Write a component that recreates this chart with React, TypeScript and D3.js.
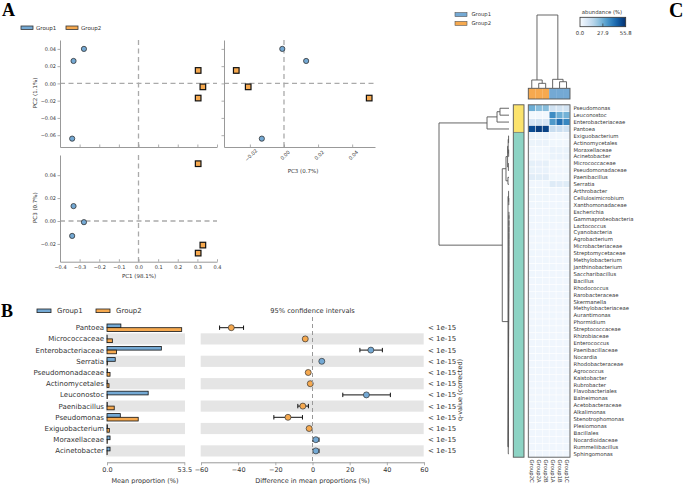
import React, { useEffect, useRef } from 'react';
import * as d3 from 'd3';

const BLUE = '#74a9d4';
const ORANGE = '#f6a94f';
const FONT = 'DejaVu Sans, sans-serif';
const SERIF = 'Liberation Serif, serif';

// ---- Panel A: PCA coordinates ----
const group1PC1 = [-0.331, -0.278, -0.338];
const group1PC2 = [0.026, 0.040, -0.064];
const group1PC3 = [0.013, -0.001, -0.013];
const group2PC1 = [0.304, 0.328, 0.304];
const group2PC2 = [0.015, -0.004, -0.017];
const group2PC3 = [-0.028, -0.021, 0.050];
const pc1Ticks = [-0.4, -0.3, -0.2, -0.1, 0.0, 0.1, 0.2, 0.3, 0.4];
const pc2Ticks = [0.04, 0.02, 0.0, -0.02, -0.04, -0.06];
const pc3Ticks = [0.04, 0.02, 0.0, -0.02];
const pc3xTicks = [-0.02, 0.0, 0.02, 0.04];

// ---- Panel B: STAMP-like comparison ----
const taxaB = ['Pantoea', 'Micrococcaceae', 'Enterobacteriaceae', 'Serratia', 'Pseudomonadaceae', 'Actinomycetales',
  'Leuconostoc', 'Paenibacillus', 'Pseudomonas', 'Exiguobacterium', 'Moraxellaceae', 'Acinetobacter'];
const meanGroup1 = [9.6, 0.1, 37.6, 5.7, 0.3, 0.2, 28.5, 0.2, 9.2, 0.3, 2.1, 2.1];
const meanGroup2 = [51.7, 3.7, 6.6, 0.3, 2.1, 1.4, 0.2, 5.0, 21.6, 1.6, 0.2, 0.1];
const diffMean = [-43.7, -3.9, 31.4, 5.0, -2.3, -1.2, 29.0, -5.2, -13.2, -1.8, 1.8, 1.8];
const ciLow = [-50.0, -4.6, 25.5, 4.2, -2.8, -1.6, 16.3, -7.9, -20.8, -2.3, 0.2, 0.2];
const ciHigh = [-37.1, -3.2, 37.6, 5.8, -1.8, -0.8, 41.9, -2.2, -5.4, -1.3, 3.5, 3.5];
const qValues = ['< 1e-15', '< 1e-15', '< 1e-15', '< 1e-15', '< 1e-15', '< 1e-15',
  '< 1e-15', '< 1e-15', '< 1e-15', '< 1e-15', '< 1e-15', '< 1e-15'];
const meanTicks = [0, 53.5];
const diffTicks = [-60, -40, -20, 0, 20, 40, 60];

// ---- Panel C: heatmap ----
const sampleLabels = ['Group2C', 'Group2A', 'Group2B', 'Group1A', 'Group1B', 'Group1C'];
const sampleGroups = ['Group2', 'Group2', 'Group2', 'Group1', 'Group1', 'Group1'];
const heatTaxa = ['Pseudomonas', 'Leuconostoc', 'Enterobacteriaceae', 'Pantoea', 'Exiguobacterium', 'Actinomycetales',
  'Moraxellaceae', 'Acinetobacter', 'Micrococcaceae', 'Pseudomonadaceae', 'Paenibacillus', 'Serratia',
  'Arthrobacter', 'Cellulosimicrobium', 'Xanthomonadaceae', 'Escherichia', 'Gammaproteobacteria', 'Lactococcus',
  'Cyanobacteria', 'Agrobacterium', 'Microbacteriaceae', 'Streptomycetaceae', 'Methylobacterium', 'Janthinobacterium',
  'Saccharibacillus', 'Bacillus', 'Rhodococcus', 'Rarobacteraceae', 'Skermanella', 'Methylobacteriaceae',
  'Aurantimonas', 'Phormidium', 'Streptococcaceae', 'Rhizobiaceae', 'Enterococcus', 'Paenibacillaceae',
  'Nocardia', 'Rhodobacteraceae', 'Agrococcus', 'Kaistobacter', 'Rubrobacter', 'Flavobacteriales',
  'Balneimonas', 'Acetobacteraceae', 'Alkalimonas', 'Stenotrophomonas', 'Plesiomonas', 'Bacillales',
  'Nocardioidaceae', 'Rummeliibacillus', 'Sphingomonas'];
const heatValues = [
  [28, 24, 24, 11, 10, 10],
  [1.5, 1.6, 1.5, 36, 28, 27],
  [9, 10, 9, 33, 42, 37],
  [50, 53, 52, 13, 12, 11],
  [3.4, 3.2, 3.3, 2.0, 1.9, 2.0],
  [3.2, 3.4, 3.3, 1.9, 1.9, 1.8],
  [2.0, 1.9, 2.0, 3.8, 3.5, 3.7],
  [1.8, 1.8, 1.9, 3.6, 3.8, 3.7],
  [5.0, 4.6, 4.8, 1.8, 1.9, 1.8],
  [4.1, 3.8, 3.9, 2.0, 2.0, 1.9],
  [6.2, 5.8, 6.0, 1.9, 1.9, 1.9],
  [2.0, 2.0, 2.1, 6.9, 6.5, 6.7],
  [2.3, 2.2, 2.3, 2.0, 2.1, 2.0],
  [2.2, 2.1, 2.2, 2.0, 2.0, 2.1],
  [2.1, 2.2, 2.1, 2.0, 2.1, 2.0],
  [2.0, 2.1, 2.0, 2.2, 2.1, 2.1],
  [2.1, 2.0, 2.1, 2.1, 2.2, 2.0],
  [2.0, 2.0, 2.1, 2.0, 2.0, 2.1],
  [2.1, 2.1, 2.0, 2.0, 2.1, 2.0],
  [2.0, 2.0, 2.0, 2.1, 2.0, 2.0],
  [2.0, 2.1, 2.0, 2.0, 2.0, 2.1],
  [2.1, 2.0, 2.0, 2.0, 2.1, 2.0],
  [2.0, 2.0, 2.1, 2.0, 2.0, 2.0],
  [2.0, 2.0, 2.0, 2.1, 2.0, 2.0],
  [2.1, 2.0, 2.0, 2.0, 2.0, 2.0],
  [2.0, 2.1, 2.0, 2.0, 2.0, 2.0],
  [2.0, 2.0, 2.0, 2.0, 2.1, 2.0],
  [2.0, 2.0, 2.0, 2.0, 2.0, 2.1],
  [2.0, 2.0, 2.1, 2.0, 2.0, 2.0],
  [2.0, 2.0, 2.0, 2.0, 2.0, 2.0],
  [2.0, 2.0, 2.0, 2.1, 2.0, 2.0],
  [2.0, 2.0, 2.0, 2.0, 2.0, 2.0],
  [2.0, 2.1, 2.0, 2.0, 2.0, 2.0],
  [2.0, 2.0, 2.0, 2.0, 2.0, 2.0],
  [2.0, 2.0, 2.0, 2.0, 2.0, 2.0],
  [2.0, 2.0, 2.0, 2.0, 2.0, 2.0],
  [2.0, 2.0, 2.0, 2.0, 2.0, 2.0],
  [2.0, 2.0, 2.0, 2.0, 2.0, 2.0],
  [2.0, 2.0, 2.0, 2.0, 2.0, 2.0],
  [2.0, 2.0, 2.0, 2.0, 2.0, 2.0],
  [2.0, 2.0, 2.0, 2.0, 2.0, 2.0],
  [2.0, 2.0, 2.0, 2.0, 2.0, 2.0],
  [2.0, 2.0, 2.0, 2.0, 2.0, 2.0],
  [2.0, 2.0, 2.0, 2.0, 2.0, 2.0],
  [2.0, 2.0, 2.0, 2.0, 2.0, 2.0],
  [2.0, 2.0, 2.0, 2.0, 2.0, 2.0],
  [2.0, 2.0, 2.0, 2.0, 2.0, 2.0],
  [2.0, 2.0, 2.0, 2.0, 2.0, 2.0],
  [2.0, 2.0, 2.0, 2.0, 2.0, 2.0],
  [2.0, 2.0, 2.0, 2.0, 2.0, 2.0],
  [2.0, 2.0, 2.0, 2.0, 2.0, 2.0],
];
const clusterSizes = [4, 47];
const clusterColors = ['#fbe36d', '#8dd3c4'];
const colorbarTicks = [0, 27.9, 55.8];
// linkage: [childA, childB, height]; leaves 0..50, new nodes from 51
const rowLinkage: [number, number, number][] = [
  [0, 1, 0.129], [51, 2, 0.171], [52, 3, 0.314],
  [4, 5, 0.006], [6, 7, 0.005], [54, 55, 0.012], [8, 9, 0.009], [56, 57, 0.02], [10, 11, 0.015], [58, 59, 0.043],
  [13, 14, 0.003], [12, 61, 0.006],
  [15, 16, 0.0010], [63, 17, 0.0012], [64, 18, 0.0014], [65, 19, 0.0016], [66, 20, 0.0018], [67, 21, 0.0020],
  [68, 22, 0.0023], [69, 23, 0.0026], [70, 24, 0.0029], [71, 25, 0.0032], [72, 26, 0.0035], [73, 27, 0.0038],
  [74, 28, 0.0041], [75, 29, 0.0044], [76, 30, 0.0047], [77, 31, 0.0050], [78, 32, 0.0053], [79, 33, 0.0056],
  [80, 34, 0.0059], [81, 35, 0.0062], [82, 36, 0.0065], [83, 37, 0.0068], [84, 38, 0.0071], [85, 39, 0.0074],
  [86, 40, 0.0077], [87, 41, 0.0080], [88, 42, 0.0083], [89, 43, 0.0086], [90, 44, 0.0089], [91, 45, 0.0092],
  [92, 46, 0.0095], [93, 47, 0.0098], [94, 48, 0.0101], [95, 49, 0.0104], [96, 50, 0.0107],
  [62, 97, 0.014], [60, 98, 0.096], [53, 99, 1.0],
];
const colLinkage: [number, number, number][] = [
  [1, 2, 0.064], [0, 6, 0.11], [4, 5, 0.086], [3, 8, 0.119], [7, 9, 1.0],
];

type Seg = { a: number; ha: number; b: number; hb: number; h: number };
const dendroSegs = (linkage: [number, number, number][], leafPos: number[]): Seg[] => {
  const pos = [...leafPos];
  const hts = leafPos.map(() => 0);
  const segs: Seg[] = [];
  linkage.forEach(([a, b, h]) => {
    segs.push({ a: pos[a], ha: hts[a], b: pos[b], hb: hts[b], h });
    pos.push((pos[a] + pos[b]) / 2);
    hts.push(h);
  });
  return segs;
};

const App: React.FC = () => {
  const ref = useRef<SVGSVGElement | null>(null);

  useEffect(() => {
    if (ref.current) draw();
  }, []);

  const styleAxis = (g: any, size = 5) => {
    g.attr('font-family', FONT).attr('font-size', size);
    g.select('.domain').attr('stroke', '#999').attr('stroke-width', 1);
    g.selectAll('.tick line').attr('stroke', '#999').attr('stroke-width', 0.8);
    g.selectAll('.tick text').attr('fill', '#333');
  };

  const draw = () => {
    const svg = d3.select(ref.current);
    svg.selectAll('*').remove();
    svg.append('rect').attr('width', 685).attr('height', 484).attr('fill', '#fff');

    // ================= Panel A =================
    svg.append('text').attr('x', 2).attr('y', 15.5).attr('font-family', SERIF)
      .attr('font-weight', 'bold').attr('font-size', 18).text('A');

    const legA = svg.append('g').attr('font-family', FONT).attr('font-size', 5.5).attr('fill', '#333');
    [['Group1', BLUE, 21], ['Group2', ORANGE, 66]].forEach(([t, c, x]) => {
      legA.append('rect').attr('x', x as number).attr('y', 26).attr('width', 12).attr('height', 3.4)
        .attr('fill', c as string).attr('stroke', '#333').attr('stroke-width', 0.8);
      legA.append('text').attr('x', (x as number) + 15).attr('y', 29.8).text(t as string);
    });

    const fmt2 = d3.format('.2f');
    const xPC1 = d3.scaleLinear().domain([-0.4, 0.4]).range([60, 217]);
    const yPC2 = d3.scaleLinear().domain([-0.0737, 0.0503]).range([147, 40]);
    const yPC3 = d3.scaleLinear().domain([-0.0355, 0.0576]).range([261.7, 155]);
    const xPC3 = d3.scaleLinear().domain([-0.0352, 0.0534]).range([224, 375]);

    const dashed = (x1: number, y1: number, x2: number, y2: number) => {
      svg.append('line').attr('x1', x1).attr('y1', y1).attr('x2', x2).attr('y2', y2)
        .attr('stroke', '#aaa').attr('stroke-width', 1.3).attr('stroke-dasharray', '5,3.5');
    };

    const scatter = (xs1: number[], ys1: number[], xs2: number[], ys2: number[], xs: any, ys: any) => {
      const g = svg.append('g');
      xs1.forEach((v, i) => {
        g.append('circle').attr('cx', xs(v)).attr('cy', ys(ys1[i])).attr('r', 2.6)
          .attr('fill', BLUE).attr('stroke', '#333').attr('stroke-width', 0.8);
      });
      xs2.forEach((v, i) => {
        g.append('rect').attr('x', xs(v) - 2.8).attr('y', ys(ys2[i]) - 2.8).attr('width', 5.6).attr('height', 5.6)
          .attr('fill', ORANGE).attr('stroke', '#111').attr('stroke-width', 1.2);
      });
    };

    // top-left: PC1 vs PC2
    dashed(xPC1(0), 40, xPC1(0), 147);
    dashed(60, yPC2(0), 217, yPC2(0));
    const a1 = svg.append('g').attr('transform', 'translate(60,0)')
      .call(d3.axisLeft(yPC2).tickValues(pc2Ticks).tickFormat((d: any) => fmt2(d)).tickSize(2.5).tickSizeOuter(0).tickPadding(1.5));
    styleAxis(a1);
    const a2 = svg.append('g').attr('transform', 'translate(0,147)')
      .call(d3.axisBottom(xPC1).tickValues(pc1Ticks).tickFormat(() => '').tickSizeInner(-2.5).tickSizeOuter(0));
    styleAxis(a2);
    scatter(group1PC1, group1PC2, group2PC1, group2PC2, xPC1, yPC2);
    svg.append('text').attr('transform', 'translate(36.5,93) rotate(-90)').attr('text-anchor', 'middle')
      .attr('font-family', FONT).attr('font-size', 5.5).attr('fill', '#333').text('PC2 (1.1%)');

    // top-right: PC3 vs PC2
    dashed(xPC3(0), 40, xPC3(0), 147);
    dashed(224, yPC2(0), 375, yPC2(0));
    const a3 = svg.append('g').attr('transform', 'translate(224,0)')
      .call(d3.axisLeft(yPC2).tickValues(pc2Ticks).tickFormat(() => '').tickSize(2.5).tickSizeOuter(0));
    styleAxis(a3);
    const a4 = svg.append('g').attr('transform', 'translate(0,147)')
      .call(d3.axisBottom(xPC3).tickValues(pc3xTicks).tickFormat(() => '').tickSizeInner(-2.5).tickSizeOuter(0));
    styleAxis(a4);
    pc3xTicks.forEach((v) => {
      svg.append('text').attr('transform', `translate(${xPC3(v) + 1},${155}) rotate(-45)`)
        .attr('text-anchor', 'middle').attr('dominant-baseline', 'central')
        .attr('font-family', FONT).attr('font-size', 5).attr('fill', '#333').text(fmt2(v));
    });
    scatter(group1PC3, group1PC2, group2PC3, group2PC2, xPC3, yPC2);
    svg.append('text').attr('x', 303).attr('y', 172.5).attr('text-anchor', 'middle')
      .attr('font-family', FONT).attr('font-size', 5.5).attr('fill', '#333').text('PC3 (0.7%)');

    // bottom: PC1 vs PC3
    dashed(xPC1(0), 155, xPC1(0), 261.7);
    dashed(60, yPC3(0), 217, yPC3(0));
    const a5 = svg.append('g').attr('transform', 'translate(60,0)')
      .call(d3.axisLeft(yPC3).tickValues(pc3Ticks).tickFormat((d: any) => fmt2(d)).tickSize(2.5).tickSizeOuter(0).tickPadding(1.5));
    styleAxis(a5);
    const a6 = svg.append('g').attr('transform', 'translate(0,261.7)')
      .call(d3.axisBottom(xPC1).tickValues(pc1Ticks).tickFormat(d3.format('.1f') as any).tickSizeInner(-2.5).tickSizeOuter(0).tickPadding(3.5));
    styleAxis(a6);
    scatter(group1PC1, group1PC3, group2PC1, group2PC3, xPC1, yPC3);
    svg.append('text').attr('transform', 'translate(36.5,207.7) rotate(-90)').attr('text-anchor', 'middle')
      .attr('font-family', FONT).attr('font-size', 5.5).attr('fill', '#333').text('PC3 (0.7%)');
    svg.append('text').attr('x', 139).attr('y', 277.5).attr('text-anchor', 'middle')
      .attr('font-family', FONT).attr('font-size', 5.5).attr('fill', '#333').text('PC1 (98.1%)');

    // ================= Panel B =================
    svg.append('text').attr('x', 1).attr('y', 317).attr('font-family', SERIF)
      .attr('font-weight', 'bold').attr('font-size', 18).text('B');

    const legB = svg.append('g').attr('font-family', FONT).attr('font-size', 7).attr('fill', '#333');
    [['Group1', BLUE, 37], ['Group2', ORANGE, 96]].forEach(([t, c, x]) => {
      legB.append('rect').attr('x', x as number).attr('y', 309).attr('width', 14).attr('height', 3.6)
        .attr('fill', c as string).attr('stroke', '#222').attr('stroke-width', 0.8);
      legB.append('text').attr('x', (x as number) + 20).attr('y', 313.3).text(t as string);
    });

    const rowB = d3.scaleBand().domain(taxaB).range([322.1, 456.5]);
    const xMean = d3.scaleLinear().domain([0, 53.5]).range([107, 184.3]);
    const xDiff = d3.scaleLinear().domain([-60, 60]).range([201, 424]);
    const bw = rowB.bandwidth();

    taxaB.forEach((t, i) => {
      if (i % 2 === 1) {
        svg.append('rect').attr('x', 106).attr('y', rowB(t)!).attr('width', 79).attr('height', bw).attr('fill', '#e5e5e5');
        svg.append('rect').attr('x', 200.7).attr('y', rowB(t)!).attr('width', 223).attr('height', bw).attr('fill', '#e5e5e5');
      }
    });

    const gB = svg.append('g').attr('font-family', FONT);
    taxaB.forEach((t, i) => {
      const cy = rowB(t)! + bw / 2;
      gB.append('text').attr('x', 104).attr('y', cy).attr('dy', '0.35em').attr('text-anchor', 'end')
        .attr('font-size', 7).attr('fill', '#333').text(t);
      gB.append('rect').attr('x', xMean(0)).attr('y', cy - 3.7).attr('width', xMean(meanGroup1[i]) - xMean(0))
        .attr('height', 3.7).attr('fill', BLUE).attr('stroke', '#111').attr('stroke-width', 0.8);
      gB.append('rect').attr('x', xMean(0)).attr('y', cy).attr('width', xMean(meanGroup2[i]) - xMean(0))
        .attr('height', 3.7).attr('fill', ORANGE).attr('stroke', '#111').attr('stroke-width', 0.8);
      gB.append('text').attr('x', 428).attr('y', cy).attr('dy', '0.35em')
        .attr('font-size', 7).attr('fill', '#333').text(qValues[i]);
    });

    svg.append('line').attr('x1', xDiff(0)).attr('x2', xDiff(0)).attr('y1', 317).attr('y2', 462.3)
      .attr('stroke', '#999').attr('stroke-width', 1).attr('stroke-dasharray', '4,3');

    taxaB.forEach((t, i) => {
      const cy = rowB(t)! + bw / 2;
      const lo = xDiff(ciLow[i]);
      const hi = xDiff(ciHigh[i]);
      gB.append('line').attr('x1', lo).attr('x2', hi).attr('y1', cy).attr('y2', cy).attr('stroke', '#111').attr('stroke-width', 1);
      [lo, hi].forEach((x) => {
        gB.append('line').attr('x1', x).attr('x2', x).attr('y1', cy - 2.2).attr('y2', cy + 2.2).attr('stroke', '#111').attr('stroke-width', 1);
      });
      gB.append('circle').attr('cx', xDiff(diffMean[i])).attr('cy', cy).attr('r', 3)
        .attr('fill', diffMean[i] > 0 ? BLUE : ORANGE).attr('stroke', '#333').attr('stroke-width', 0.7);
    });

    const b1 = svg.append('g').attr('transform', 'translate(0,462.3)')
      .call(d3.axisBottom(xMean).tickValues(meanTicks).tickFormat(d3.format('.1f') as any).tickSize(3).tickSizeOuter(0).tickPadding(2));
    styleAxis(b1, 6.5);
    const b2 = svg.append('g').attr('transform', 'translate(0,462.3)')
      .call(d3.axisBottom(xDiff).tickValues(diffTicks).tickFormat(d3.format('d') as any).tickSize(3).tickSizeOuter(0).tickPadding(2));
    styleAxis(b2, 6.5);

    svg.append('text').attr('x', 312.5).attr('y', 313).attr('text-anchor', 'middle')
      .attr('font-family', FONT).attr('font-size', 6.7).attr('fill', '#333').text('95% confidence intervals');
    svg.append('text').attr('x', 145).attr('y', 482.5).attr('text-anchor', 'middle')
      .attr('font-family', FONT).attr('font-size', 6.5).attr('fill', '#333').text('Mean proportion (%)');
    svg.append('text').attr('x', 312.5).attr('y', 482.5).attr('text-anchor', 'middle')
      .attr('font-family', FONT).attr('font-size', 6.5).attr('fill', '#333').text('Difference in mean proportions (%)');
    svg.append('text').attr('transform', 'translate(462,390) rotate(-90)').attr('text-anchor', 'middle')
      .attr('font-family', FONT).attr('font-size', 6.5).attr('fill', '#333').text('q-value (corrected)');

    // ================= Panel C =================
    svg.append('text').attr('x', 669).attr('y', 17).attr('font-family', SERIF)
      .attr('font-weight', 'bold').attr('font-size', 20).text('C');

    const legC = svg.append('g').attr('font-family', FONT).attr('font-size', 5.3).attr('fill', '#333');
    [['Group1', BLUE, 12.6], ['Group2', ORANGE, 21.4]].forEach(([t, c, y]) => {
      legC.append('rect').attr('x', 455).attr('y', y as number).attr('width', 12).attr('height', 4)
        .attr('fill', c as string).attr('stroke', '#555').attr('stroke-width', 0.6);
      legC.append('text').attr('x', 471.5).attr('y', (y as number) + 3.8).text(t as string);
    });

    // colorbar
    const cbX = d3.scaleLinear().domain([0, 55.8]).range([580, 625.7]);
    const defs = svg.append('defs');
    const grad = defs.append('linearGradient').attr('id', 'blues').attr('x1', '0%').attr('x2', '100%');
    d3.range(0, 1.0001, 0.1).forEach((t) => {
      grad.append('stop').attr('offset', `${t * 100}%`).attr('stop-color', d3.interpolateBlues(t));
    });
    svg.append('rect').attr('x', cbX(0)).attr('y', 17.3).attr('width', cbX(55.8) - cbX(0)).attr('height', 9.4)
      .attr('fill', 'url(#blues)').attr('stroke', '#333').attr('stroke-width', 0.8);
    svg.append('line').attr('x1', cbX(27.9)).attr('x2', cbX(27.9)).attr('y1', 23.5).attr('y2', 26.7)
      .attr('stroke', '#333').attr('stroke-width', 0.7);
    colorbarTicks.forEach((v) => {
      svg.append('text').attr('x', cbX(v)).attr('y', 35).attr('text-anchor', 'middle')
        .attr('font-family', FONT).attr('font-size', 5.3).attr('fill', '#333').text(v.toFixed(1));
    });
    svg.append('text').attr('x', 602).attr('y', 13.5).attr('text-anchor', 'middle')
      .attr('font-family', FONT).attr('font-size', 5.3).attr('fill', '#333').text('abundance (%)');

    const colX = d3.scaleBand().domain(sampleLabels).range([528.3, 570]);
    const rowY = d3.scaleBand().domain(heatTaxa).range([104.8, 457.2]);
    const color = d3.scaleSequential(d3.interpolateBlues).domain([0, 55.8]);
    const cw = colX.bandwidth();
    const rh = rowY.bandwidth();

    const gH = svg.append('g');
    heatTaxa.forEach((t, r) => {
      sampleLabels.forEach((s, c) => {
        gH.append('rect').attr('x', colX(s)!).attr('y', rowY(t)!).attr('width', cw).attr('height', rh)
          .attr('fill', color(heatValues[r][c])).attr('stroke', '#fff').attr('stroke-width', 0.5);
      });
      gH.append('text').attr('x', 573.5).attr('y', rowY(t)! + rh / 2).attr('dy', '0.35em')
        .attr('font-family', FONT).attr('font-size', 5.3).attr('fill', '#333').text(t);
    });
    svg.append('rect').attr('x', 528.3).attr('y', 104.8).attr('width', 570 - 528.3).attr('height', 457.2 - 104.8)
      .attr('fill', 'none').attr('stroke', '#555').attr('stroke-width', 0.9);

    // column header
    sampleLabels.forEach((s, c) => {
      svg.append('rect').attr('x', colX(s)!).attr('y', 88.3).attr('width', cw).attr('height', 10.7)
        .attr('fill', sampleGroups[c] === 'Group1' ? BLUE : ORANGE);
      svg.append('text').attr('transform', `translate(${colX(s)! + cw / 2},459.5) rotate(90)`)
        .attr('dominant-baseline', 'central')
        .attr('font-family', FONT).attr('font-size', 5.3).attr('fill', '#333').text(s);
    });
    svg.append('rect').attr('x', 528.3).attr('y', 88.3).attr('width', 570 - 528.3).attr('height', 10.7)
      .attr('fill', 'none').attr('stroke', '#555').attr('stroke-width', 0.9);

    // row cluster bar
    let start = 0;
    clusterSizes.forEach((n, k) => {
      const y0 = rowY(heatTaxa[start])!;
      svg.append('rect').attr('x', 513.3).attr('y', y0).attr('width', 10.7).attr('height', n * rh)
        .attr('fill', clusterColors[k]);
      start += n;
    });
    svg.append('rect').attr('x', 513.3).attr('y', 104.8).attr('width', 10.7).attr('height', 457.2 - 104.8)
      .attr('fill', 'none').attr('stroke', '#555').attr('stroke-width', 0.9);
    svg.append('line').attr('x1', 513.3).attr('x2', 524).attr('y1', rowY(heatTaxa[4])!).attr('y2', rowY(heatTaxa[4])!)
      .attr('stroke', '#555').attr('stroke-width', 0.6);

    // row dendrogram
    const hx = d3.scaleLinear().domain([0, 1]).range([509, 439]);
    const rowSegs = dendroSegs(rowLinkage, heatTaxa.map((t) => rowY(t)! + rh / 2));
    svg.append('g').selectAll('path').data(rowSegs).enter().append('path')
      .attr('d', (s) => `M${hx(s.ha)},${s.a}H${hx(s.h)}V${s.b}H${hx(s.hb)}`)
      .attr('fill', 'none').attr('stroke', '#555').attr('stroke-width', 0.9);

    // column dendrogram
    const hy = d3.scaleLinear().domain([0, 1]).range([88, 15]);
    const colSegs = dendroSegs(colLinkage, sampleLabels.map((s) => colX(s)! + cw / 2));
    svg.append('g').selectAll('path').data(colSegs).enter().append('path')
      .attr('d', (s) => `M${s.a},${hy(s.ha)}V${hy(s.h)}H${s.b}V${hy(s.hb)}`)
      .attr('fill', 'none').attr('stroke', '#555').attr('stroke-width', 0.9);
  };

  return (
    <svg ref={ref} width={685} height={484} style={{ position: 'absolute', left: 0, top: 0 }} />
  );
};

export default App;
